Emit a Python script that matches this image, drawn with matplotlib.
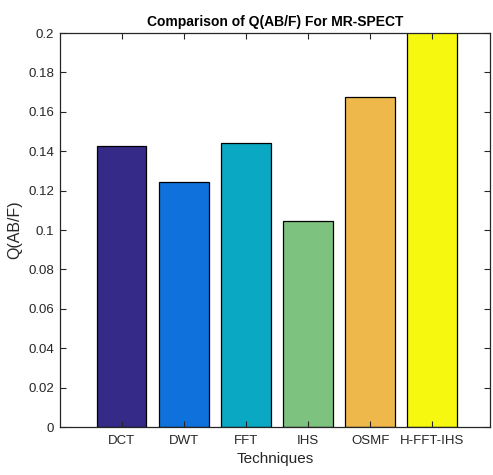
import numpy as np
import matplotlib.pyplot as plt

# data
techniques = ['DCT', 'DWT', 'FFT', 'IHS', 'OSMF', 'H-FFT-IHS']
q_abf = [0.1429, 0.1244, 0.1442, 0.1046, 0.1675, 0.2100]
colors = ['#352a87', '#0f72dc', '#0aa8c3', '#7dc27e', '#efb84b', '#f6f80f']

plt.rcParams['font.family'] = ['Liberation Sans', 'DejaVu Sans']

fig = plt.figure(figsize=(4.93, 4.75), dpi=100)
ax = fig.add_axes([0.1207, 0.101, 0.8733, 0.8295])

x = np.arange(1, len(techniques) + 1)
ax.bar(x, q_abf, width=0.8, color=colors, edgecolor='black', linewidth=0.9)

ax.set_xlim(0, 6.93)
ax.set_ylim(0, 0.2)
ax.set_xticks(x)
ax.set_xticklabels(techniques)
ax.set_yticks(np.arange(0, 0.201, 0.02))
ax.set_yticklabels(['0'] + ['%g' % v for v in np.arange(0.02, 0.201, 0.02)])
ax.tick_params(direction='in', top=True, right=True, length=4, width=0.8,
               labelsize=9.5, colors='#262626', labelcolor='#262626')
ax.tick_params(axis='y', pad=4)
ax.tick_params(axis='x', pad=6)
for s in ax.spines.values():
    s.set_linewidth(0.9)
    s.set_color('#262626')

ax.set_xlabel('Techniques', fontsize=11, color='#262626', labelpad=3)
ax.set_ylabel('Q(AB/F)', fontsize=11.5, color='#262626', labelpad=4)
ax.set_title('Comparison of Q(AB/F) For MR-SPECT', fontsize=10,
             fontweight='bold', pad=5)

fig.savefig('out.png', dpi=100)
